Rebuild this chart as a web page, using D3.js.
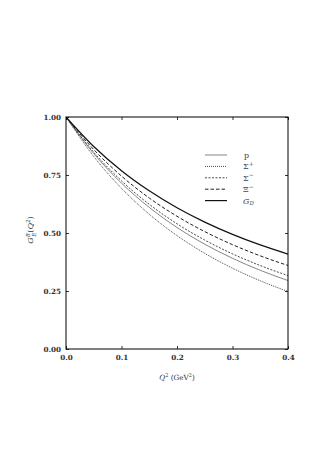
<!DOCTYPE html>
<html><head><meta charset="utf-8">
<script src="https://cdn.jsdelivr.net/npm/d3@7"></script>
<style>html,body{margin:0;padding:0;background:#fff;}svg{display:block;}text{-webkit-font-smoothing:antialiased;}</style>
</head><body>
<svg id="c" width="331" height="468"></svg>
<script>
const q2 = [0, 0.05, 0.1, 0.15, 0.2, 0.25, 0.3, 0.35, 0.4];
const pVals = [1, 0.8424, 0.7147, 0.6104, 0.5238, 0.4517, 0.3909, 0.3392, 0.2950];
const sigmaPlusVals = [1, 0.8298, 0.6926, 0.5809, 0.4888, 0.4123, 0.3482, 0.2940, 0.2479];
const sigmaMinusVals = [1, 0.8481, 0.7247, 0.6237, 0.5397, 0.4695, 0.4101, 0.3596, 0.3163];
const xiMinusVals = [1, 0.8597, 0.7453, 0.6509, 0.5722, 0.5060, 0.4497, 0.4015, 0.3600];
const gdVals = [1, 0.8728, 0.7683, 0.6816, 0.6087, 0.5470, 0.4942, 0.4486, 0.4091];
const xTicks = [0, 0.1, 0.2, 0.3, 0.4];
const yTicks = [0, 0.25, 0.5, 0.75, 1.0];

const svg = d3.select("#c");
const L = 66, R = 288, T = 117, B = 349;
const x = d3.scaleLinear().domain([0, 0.4]).range([L, R]);
const y = d3.scaleLinear().domain([0, 1]).range([B, T]);
const font = "'DejaVu Serif','Liberation Serif',serif";
const fs = 7.2;

const series = [
  {name: "p", vals: pVals, dash: null, w: 0.8, col: "#666"},
  {name: "Σ+", vals: sigmaPlusVals, dash: "1,1", w: 0.9, col: "#333"},
  {name: "Σ−", vals: sigmaMinusVals, dash: "2,1.5", w: 0.9, col: "#333"},
  {name: "Ξ−", vals: xiMinusVals, dash: "3.5,2", w: 1.0, col: "#222"},
  {name: "GD", vals: gdVals, dash: null, w: 1.2, col: "#111"}
];

const line = d3.line().x(d => x(d[0])).y(d => y(d[1])).curve(d3.curveMonotoneX);
const g = svg.append("g");
g.append("defs").append("clipPath").attr("id","clip").append("rect")
  .attr("x", L).attr("y", T).attr("width", R-L).attr("height", B-T);
series.forEach(s => {
  g.append("path").attr("clip-path","url(#clip)")
    .datum(q2.map((q,i) => [q, s.vals[i]]))
    .attr("d", line).attr("fill","none").attr("stroke", s.col)
    .attr("stroke-width", s.w).attr("stroke-dasharray", s.dash);
});

const ax = d3.axisBottom(x).tickValues(xTicks).tickFormat(d3.format(".1f")).tickSize(-3).tickPadding(6);
const ay = d3.axisLeft(y).tickValues(yTicks).tickFormat(d3.format(".2f")).tickSize(-3).tickPadding(5);
const axT = d3.axisTop(x).tickValues(xTicks).tickFormat("").tickSize(-3);
const ayR = d3.axisRight(y).tickValues(yTicks).tickFormat("").tickSize(-3);
function style(sel){
  sel.select(".domain").remove();
  sel.selectAll("line").attr("stroke","#000").attr("stroke-width",0.8);
  sel.selectAll("text").attr("font-family", font).attr("font-size", fs).attr("font-weight","bold").attr("fill","#333");
}
svg.append("g").attr("transform",`translate(0,${B})`).call(ax).call(style);
svg.append("g").attr("transform",`translate(${L},0)`).call(ay).call(style);
svg.append("g").attr("transform",`translate(0,${T})`).call(axT).call(style);
svg.append("g").attr("transform",`translate(${R},0)`).call(ayR).call(style);
svg.append("rect").attr("x",L).attr("y",T).attr("width",R-L).attr("height",B-T)
  .attr("fill","none").attr("stroke","#000").attr("stroke-width",1);

const xl = svg.append("text").attr("x", 177).attr("y", 380).attr("text-anchor","middle")
  .attr("font-family", font).attr("font-size", fs).attr("fill","#333");
xl.append("tspan").attr("font-style","italic").text("Q");
xl.append("tspan").attr("dy",-3).attr("font-size",5).text("2");
xl.append("tspan").attr("dy",3).text(" (GeV");
xl.append("tspan").attr("dy",-3).attr("font-size",5).text("2");
xl.append("tspan").attr("dy",3).text(")");

const yl = svg.append("text").attr("transform","translate(33,230) rotate(-90)").attr("text-anchor","middle")
  .attr("font-family", font).attr("font-size", 8).attr("fill","#333");
yl.append("tspan").attr("font-style","italic").text("G");
yl.append("tspan").attr("dy",-3).attr("font-size",5.5).attr("font-style","italic").text("B");
yl.append("tspan").attr("dx",-3.5).attr("dy",5.5).attr("font-size",5.5).attr("font-style","italic").text("E");
yl.append("tspan").attr("dy",-2.5).text("(");
yl.append("tspan").attr("font-style","italic").text("Q");
yl.append("tspan").attr("dy",-3).attr("font-size",5.5).text("2");
yl.append("tspan").attr("dy",3).text(")");

const ly0 = 155, ldy = 11.4;
series.forEach((s,i) => {
  const yy = ly0 + i*ldy;
  svg.append("line").attr("x1",205).attr("x2",227).attr("y1",yy).attr("y2",yy)
    .attr("stroke", s.col).attr("stroke-width", s.w).attr("stroke-dasharray", s.dash);
  const t = svg.append("text").attr("x", 243).attr("y", yy+3)
    .attr("font-family", font).attr("font-size", 8).attr("fill","#444");
  if (s.name === "p") { t.attr("x", 244).text("p"); }
  else if (s.name === "GD") {
    t.append("tspan").attr("font-style","italic").text("G");
    t.append("tspan").attr("dy",1.5).attr("font-size",5.5).attr("font-style","italic").text("D");
  } else {
    t.append("tspan").text(s.name[0]);
    t.append("tspan").attr("dy",-3.5).attr("font-size",6).text(s.name[1] === "+" ? "+" : "−");
  }
});
</script>
</body></html>
